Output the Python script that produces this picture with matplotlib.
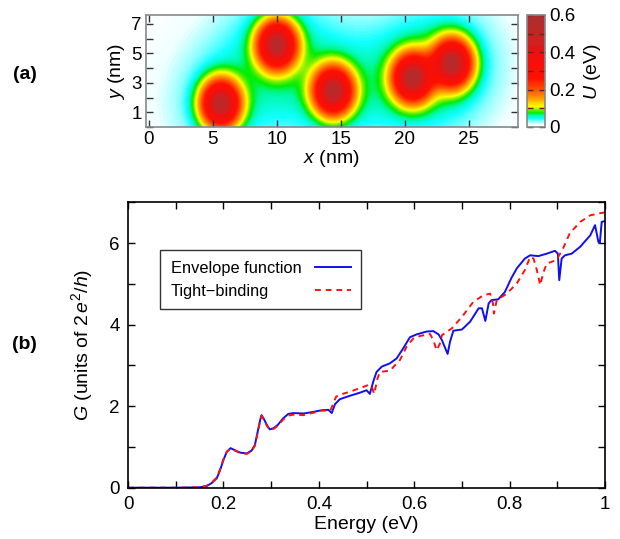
import matplotlib
matplotlib.use("Agg")
import matplotlib.pyplot as plt
import numpy as np
from matplotlib.colors import LinearSegmentedColormap
from matplotlib.ticker import MultipleLocator, FuncFormatter

plt.rcParams['font.family'] = ['Liberation Sans', 'DejaVu Sans']
plt.rcParams['mathtext.fontset'] = 'custom'
plt.rcParams['mathtext.rm'] = 'Liberation Sans'
plt.rcParams['mathtext.it'] = 'Liberation Sans:italic'

# quantum dot positions (nm) and peak height (eV) for panel (a)
dot_x = [5.6, 10.0, 14.4, 20.6, 23.7]
dot_y = [1.55, 5.55, 2.4, 3.3, 4.3]
dot_u = [0.48, 0.48, 0.48, 0.48, 0.48]
dot_wx = 1.0     # width of a dot (nm)
dot_wy = 1.06
tail_u = 0.042   # weak long-range background
tail_w = 3.3

# conductance, panel (b)
e_env = [0.0, 0.10, 0.151, 0.165, 0.175, 0.186, 0.193, 0.200, 0.207, 0.215, 0.224,
         0.235, 0.249, 0.259, 0.266, 0.271, 0.277, 0.280, 0.285, 0.291, 0.297, 0.305,
         0.314, 0.325, 0.336, 0.347, 0.368, 0.389, 0.406, 0.420, 0.427, 0.434, 0.444,
         0.464, 0.486, 0.500, 0.507, 0.514, 0.521, 0.532, 0.549, 0.563, 0.577, 0.591,
         0.605, 0.626, 0.640, 0.651, 0.658, 0.665, 0.670, 0.675, 0.682, 0.700, 0.717,
         0.735, 0.742, 0.749, 0.756, 0.762, 0.776, 0.790, 0.804, 0.815, 0.832, 0.843,
         0.860, 0.878, 0.895, 0.901, 0.904, 0.909, 0.916, 0.930, 0.948, 0.969, 0.979,
         0.986, 0.989, 0.993, 1.0]
g_env = [0.0, 0.0, 0.01, 0.04, 0.11, 0.23, 0.43, 0.68, 0.88, 0.97, 0.92,
         0.86, 0.84, 0.91, 1.05, 1.33, 1.66, 1.78, 1.68, 1.54, 1.43, 1.46,
         1.54, 1.70, 1.81, 1.83, 1.82, 1.86, 1.90, 1.91, 1.83, 2.05, 2.17,
         2.25, 2.33, 2.39, 2.30, 2.60, 2.84, 2.97, 3.05, 3.17, 3.42, 3.69,
         3.76, 3.83, 3.84, 3.76, 3.62, 3.42, 3.28, 3.58, 3.85, 3.88, 4.07,
         4.40, 4.40, 4.09, 4.52, 4.60, 4.62, 4.80, 5.15, 5.38, 5.62, 5.70,
         5.68, 5.74, 5.81, 5.74, 5.09, 5.62, 5.70, 5.74, 5.91, 6.19, 6.44,
         6.03, 6.00, 6.52, 6.54]

e_tb = [0.0, 0.10, 0.151, 0.165, 0.175, 0.186, 0.193, 0.200, 0.207, 0.215, 0.224,
        0.235, 0.249, 0.259, 0.266, 0.271, 0.277, 0.280, 0.285, 0.291, 0.297, 0.305,
        0.314, 0.325, 0.336, 0.347, 0.368, 0.389, 0.406, 0.424, 0.429, 0.436, 0.444,
        0.464, 0.486, 0.504, 0.511, 0.516, 0.523, 0.528, 0.549, 0.570, 0.584, 0.598,
        0.612, 0.633, 0.640, 0.647, 0.654, 0.658, 0.679, 0.700, 0.724, 0.745, 0.759,
        0.765, 0.767, 0.773, 0.794, 0.815, 0.832, 0.843, 0.850, 0.857, 0.864, 0.871,
        0.878, 0.898, 0.912, 0.926, 0.948, 0.969, 0.993, 1.0]
g_tb = [0.0, 0.0, 0.01, 0.05, 0.12, 0.25, 0.45, 0.70, 0.88, 0.96, 0.91,
        0.85, 0.83, 0.90, 1.03, 1.30, 1.64, 1.76, 1.67, 1.52, 1.42, 1.44,
        1.52, 1.67, 1.77, 1.79, 1.78, 1.84, 1.89, 1.89, 2.03, 2.23, 2.28,
        2.35, 2.44, 2.52, 2.48, 2.30, 2.68, 2.84, 2.87, 3.13, 3.46, 3.66,
        3.72, 3.77, 3.62, 3.37, 3.54, 3.74, 3.91, 4.19, 4.56, 4.72, 4.76,
        4.52, 4.27, 4.60, 4.76, 5.01, 5.34, 5.66, 5.62, 5.34, 4.97, 5.29,
        5.50, 5.58, 5.87, 6.24, 6.52, 6.68, 6.74, 6.75]

# potential map built from the dot list
xs = np.linspace(-0.2, 28.8, 400)
ys = np.linspace(0, 7.6, 110)
X, Y = np.meshgrid(xs, ys)
U = np.zeros_like(X)
for cx, cy, cu in zip(dot_x, dot_y, dot_u):
    r2 = ((X - cx) / dot_wx)**2 + ((Y - cy) / dot_wy)**2
    U += cu * np.exp(-r2 / 2)
    U += tail_u * np.exp(-((X - cx)**2 + (Y - cy)**2) / (2 * tail_w**2))

nodes = [(0.0, '#ffffff'), (0.012, '#f0ffff'), (0.028, '#90ffff'), (0.045, '#10ffff'),
         (0.062, '#00f8a0'), (0.075, '#00ee00'), (0.092, '#80f000'), (0.11, '#ffff00'),
         (0.15, '#ffa000'), (0.2, '#ff5000'), (0.26, '#ff1000'), (0.4, '#ee1010'),
         (0.45, '#d02020'), (0.6, '#a83030')]
cmap = LinearSegmentedColormap.from_list('dots', [(v / 0.6, c) for v, c in nodes])

fig = plt.figure(figsize=(6.2, 5.39), dpi=100)

# panel (a)
ax1 = fig.add_axes([0.2355, 0.7644, 0.5995, 0.2078])
im = ax1.imshow(U, extent=[xs[0], xs[-1], ys[0], ys[-1]], origin='lower',
                aspect='auto', cmap=cmap, vmin=0, vmax=0.6, interpolation='bilinear')
ax1.set_xlim(-0.2, 28.8)
ax1.set_ylim(0, 7.6)
ax1.xaxis.set_major_locator(MultipleLocator(5))
ax1.set_yticks([1, 3, 5, 7])
ax1.yaxis.set_minor_locator(MultipleLocator(1))
ax1.tick_params(which='both', direction='in', top=True, right=True, length=5,
                width=1, labelsize=13.5, color='#333333', pad=3)
for s in ax1.spines.values():
    s.set_color('#888888')
    s.set_linewidth(1.2)
ax1.set_xlabel(r'$x$ (nm)', fontsize=14, labelpad=0)
ax1.set_ylabel(r'$y$ (nm)', fontsize=14, labelpad=3)

cax = fig.add_axes([0.85, 0.7644, 0.029, 0.2078])
cb = fig.colorbar(im, cax=cax)
cb.set_ticks([0, 0.2, 0.4, 0.6])
cb.set_ticklabels(['0', '0.2', '0.4', '0.6'])
cb.ax.yaxis.set_minor_locator(MultipleLocator(0.1))
cb.ax.tick_params(which='both', direction='in', left=True, right=True, length=4,
                  width=1, color='#702020', labelsize=13.5, pad=3)
cb.outline.set_edgecolor('#888888')
cb.outline.set_linewidth(1.2)
cb.set_label(r'$U$ (eV)', fontsize=14, labelpad=5)

# panel (b)
ax2 = fig.add_axes([0.2065, 0.0952, 0.7694, 0.5295])
ax2.plot(e_env, g_env, '-', color='#1010ee', lw=1.4, label='Envelope function')
ax2.plot(e_tb, g_tb, '--', color='#ff1010', lw=1.4, dashes=(3, 2.5), label='Tight\u2212binding')
ax2.set_xlim(0, 1)
ax2.set_ylim(0, 7)
ax2.xaxis.set_major_locator(MultipleLocator(0.2))
ax2.xaxis.set_minor_locator(MultipleLocator(0.1))
ax2.yaxis.set_major_locator(MultipleLocator(2))
ax2.yaxis.set_minor_locator(MultipleLocator(1))
ax2.xaxis.set_major_formatter(FuncFormatter(lambda v, p: '%g' % round(v, 1)))
ax2.tick_params(which='both', direction='in', top=True, right=True, length=5,
                width=1, labelsize=13.5, pad=6)
for s in ax2.spines.values():
    s.set_linewidth(1.2)
ax2.set_xlabel('Energy (eV)', fontsize=14, labelpad=2)
ax2.set_ylabel(r'$G$ (units of $2\,e^2/h$)', fontsize=14, labelpad=10)
leg = ax2.legend(loc='upper left', bbox_to_anchor=(0.067, 0.833), markerfirst=False,
                 fontsize=11.8, frameon=True, fancybox=False, edgecolor='black',
                 handlelength=2.2, borderpad=0.65, labelspacing=0.5, handletextpad=1.0,
                 borderaxespad=0)
leg.get_frame().set_linewidth(1.0)
# text flush left, samples flush right
for row in leg._legend_handle_box.get_children()[0].get_children():
    row.mode = 'expand'
    row.width = 180

fig.text(0.04, 0.861, '(a)', fontsize=14, fontweight='bold', ha='center', va='center')
fig.text(0.04, 0.36, '(b)', fontsize=14, fontweight='bold', ha='center', va='center')

fig.savefig('out.png', dpi=100)
